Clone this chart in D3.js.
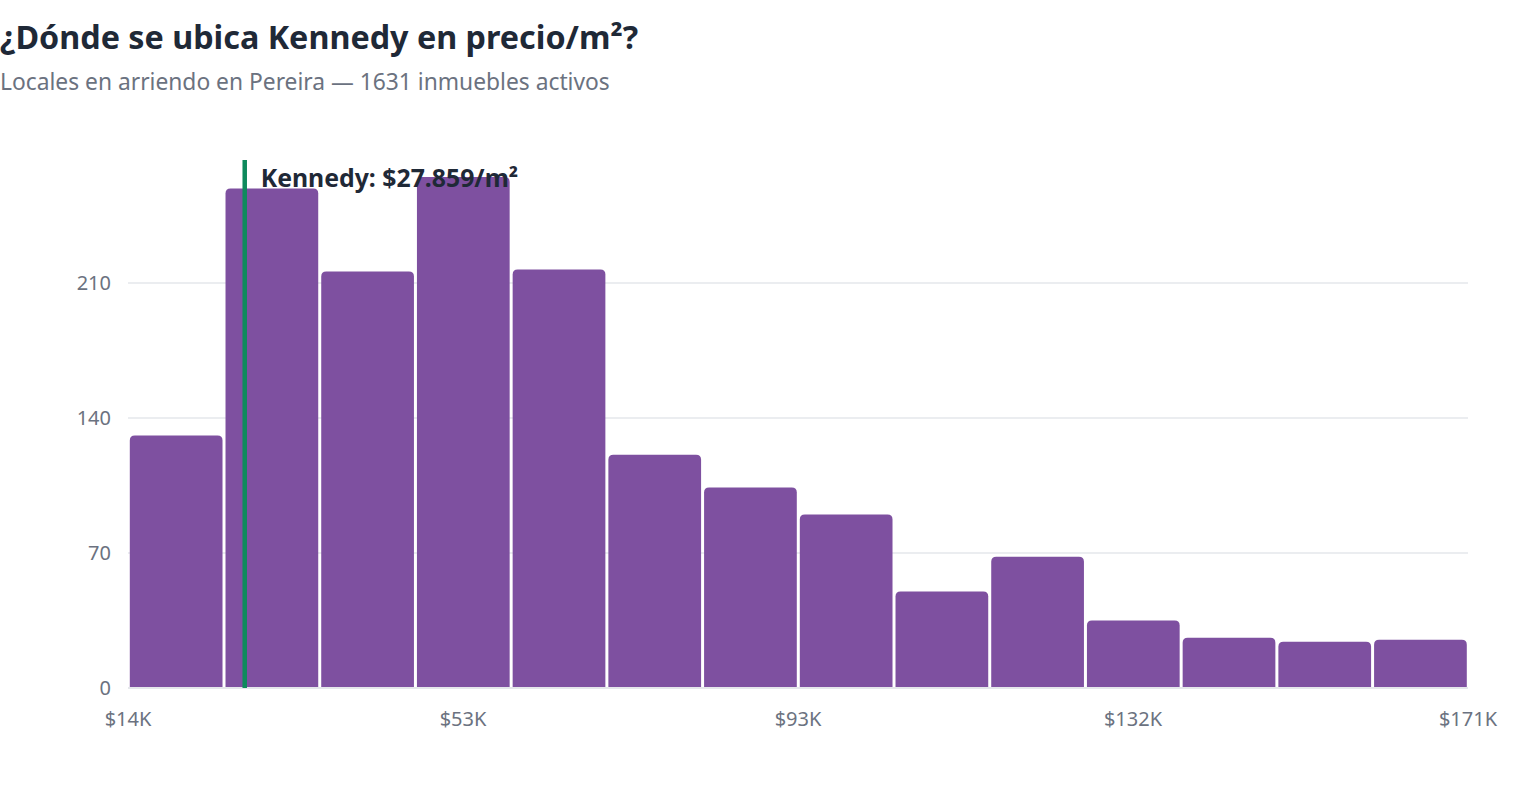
<!DOCTYPE html>
<html><head><meta charset="utf-8">
<script src="https://cdn.jsdelivr.net/npm/d3@7"></script>
<style>
body{margin:0;background:#fff;font-family:"Noto Sans","Open Sans",sans-serif;}
svg{display:block}
</style></head>
<body>
<svg id="c" width="1520" height="800"></svg>
<script>
const binCounts = [131, 259, 216, 265, 217, 121, 104, 90, 50, 68, 35, 26, 24, 25];
const priceMin = 14.2;   // miles de $ por m²
const priceMax = 171.0;
const yTicks = [0, 70, 140, 210];
const kennedyPrice = 27.859;
const title = "¿Dónde se ubica Kennedy en precio/m²?";
const subtitle = "Locales en arriendo en Pereira — 1631 inmuebles activos";
const markerLabel = "Kennedy: $27.859/m²";

const svg = d3.select("#c");
const m = {left:128, right:1468, top:160, bottom:688};
const binW = (priceMax - priceMin) / binCounts.length;
const bins = binCounts.map((c,i)=>({x0: priceMin + i*binW, x1: priceMin + (i+1)*binW, c}));

const x = d3.scaleLinear().domain([priceMin, priceMax]).range([m.left, m.right]);
const y = d3.scaleLinear().domain([0, 273.8]).range([m.bottom, m.top]);

// gridlines
svg.append("g").selectAll("line").data(yTicks).join("line")
  .attr("x1", m.left).attr("x2", m.right)
  .attr("y1", d=>y(d)).attr("y2", d=>y(d))
  .attr("stroke", "#e5e7eb").attr("stroke-width", d=> d===0?2:1.5);

// y labels
svg.append("g").selectAll("text").data(yTicks).join("text")
  .attr("x", 111).attr("y", d=>y(d)+7)
  .attr("text-anchor","end").attr("fill","#6b7280").attr("font-size",20)
  .text(d=>d);

// bars with rounded top corners
function barPath(x0,x1,yt,yb,r){
  r = Math.min(r, (x1-x0)/2, yb-yt);
  return `M${x0},${yb}V${yt+r}Q${x0},${yt} ${x0+r},${yt}H${x1-r}Q${x1},${yt} ${x1},${yt+r}V${yb}Z`;
}
svg.append("g").selectAll("path").data(bins).join("path")
  .attr("d", d=>barPath(x(d.x0)+1.8, x(d.x1)-1.2, y(d.c), y(0)-1, 5))
  .attr("fill", "#7e50a0");

// x axis labels
const xTicks = d3.range(5).map(i=> priceMin + i*(priceMax-priceMin)/4);
svg.append("g").selectAll("text").data(xTicks).join("text")
  .attr("x", d=>x(d)).attr("y", 726)
  .attr("text-anchor","middle").attr("fill","#6b7280").attr("font-size",20)
  .text(d=>"$"+Math.round(d)+"K");

// marker line
const kx = x(kennedyPrice);
svg.append("line").attr("x1",kx).attr("x2",kx).attr("y1",m.top).attr("y2",m.bottom)
  .attr("stroke","#0e8a5c").attr("stroke-width",4.5);
svg.append("text").attr("x", kx+16).attr("y", 187)
  .attr("fill","#1f2937").attr("font-size",24.8).attr("font-weight","bold")
  .text(markerLabel);

// titles
svg.append("text").attr("x",0).attr("y",49).attr("fill","#1f2937")
  .attr("font-size",32.3).attr("font-weight","bold").text(title);
svg.append("text").attr("x",0).attr("y",90).attr("fill","#6b7280")
  .attr("font-size",22.8).text(subtitle);
</script>
</body></html>
